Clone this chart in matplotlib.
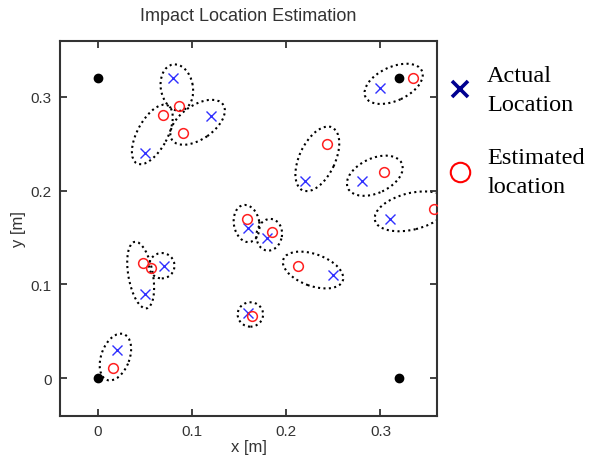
import matplotlib
matplotlib.use("Agg")
import matplotlib.pyplot as plt
from matplotlib.patches import Ellipse
from matplotlib.lines import Line2D

# sensor positions [m]
sensor_x = [0.0, 0.0, 0.32, 0.32]
sensor_y = [0.0, 0.32, 0.0, 0.32]

# actual impact positions [m]
actual_x = [0.08, 0.05, 0.12, 0.30, 0.22, 0.28, 0.31, 0.16, 0.18, 0.25, 0.07, 0.05, 0.16, 0.02]
actual_y = [0.32, 0.24, 0.28, 0.31, 0.21, 0.21, 0.17, 0.16, 0.15, 0.11, 0.12, 0.09, 0.07, 0.03]

# estimated positions [m]
est_x = [0.086, 0.069, 0.091, 0.335, 0.243, 0.304, 0.357, 0.158, 0.185, 0.212, 0.057, 0.048, 0.164, 0.016]
est_y = [0.290, 0.281, 0.262, 0.320, 0.250, 0.220, 0.180, 0.170, 0.156, 0.120, 0.118, 0.123, 0.066, 0.011]

# uncertainty ellipses (centre, major, minor, angle in deg)
ell_cx = [0.084, 0.058, 0.106, 0.314, 0.233, 0.294, 0.333, 0.158, 0.182, 0.2285, 0.068, 0.0456, 0.162, 0.0188]
ell_cy = [0.310, 0.260, 0.273, 0.314, 0.234, 0.216, 0.178, 0.165, 0.153, 0.1154, 0.120, 0.110, 0.068, 0.0226]
ell_w = [0.050, 0.070, 0.066, 0.066, 0.074, 0.063, 0.080, 0.040, 0.034, 0.067, 0.027, 0.072, 0.027, 0.052]
ell_h = [0.034, 0.032, 0.036, 0.036, 0.038, 0.037, 0.039, 0.027, 0.027, 0.034, 0.027, 0.026, 0.026, 0.030]
ell_ang = [100, 62, 35, 25, 65, 25, 14, 100, 80, -20, 0, 100, 0, 70]

plt.rcParams['font.family'] = ['Liberation Sans', 'DejaVu Sans']
axcol = '#333333'

fig = plt.figure(figsize=(5.98, 4.60), dpi=100)
ax = fig.add_axes([0.1003, 0.0941, 0.6305, 0.8152])

for cx, cy, w, h, a in zip(ell_cx, ell_cy, ell_w, ell_h, ell_ang):
    ax.add_patch(Ellipse((cx, cy), w, h, angle=a, fill=False, ec='black',
                         ls=(0, (1, 1.6)), lw=1.5))

ax.plot(sensor_x, sensor_y, 'o', color='black', ms=6, zorder=3)
ax.plot(actual_x, actual_y, 'x', color='#3030ff', ms=7, mew=1.0, zorder=3)
ax.plot(est_x, est_y, 'o', mfc='none', mec='#ff2020', ms=7, mew=1.1, zorder=3)

ax.set_xlim(-0.04, 0.36)
ax.set_ylim(-0.04, 0.36)
ax.set_xticks([0, 0.1, 0.2, 0.3])
ax.set_yticks([0, 0.1, 0.2, 0.3])
ax.set_xticklabels(['0', '0.1', '0.2', '0.3'])
ax.set_yticklabels(['0', '0.1', '0.2', '0.3'])
ax.tick_params(direction='in', top=True, right=True, length=5, width=1.3,
               colors=axcol, labelsize=11, pad=6)
for s in ax.spines.values():
    s.set_linewidth(1.5)
    s.set_color(axcol)

ax.set_xlabel('x [m]', fontsize=12, color=axcol, labelpad=1)
ax.set_ylabel('y [m]', fontsize=12, color=axcol, labelpad=3)
ax.set_title('Impact Location Estimation', fontsize=13, color=axcol, pad=15)

handles = [
    Line2D([], [], ls='none', marker='x', color='#000090', ms=11, mew=2.6),
    Line2D([], [], ls='none', marker='o', mfc='none', mec='#ff0000', ms=14, mew=1.5),
]
leg = fig.legend(handles, ['Actual\nLocation', 'Estimated\nlocation'],
                 loc='upper left', bbox_to_anchor=(0.703, 0.905), frameon=False,
                 prop={'family': 'Liberation Serif', 'size': 17.5},
                 handletextpad=0.35, labelspacing=1.35, handlelength=1.5)
for t in leg.get_texts():
    t.set_linespacing(1.5)

fig.savefig('out.png', dpi=100)
